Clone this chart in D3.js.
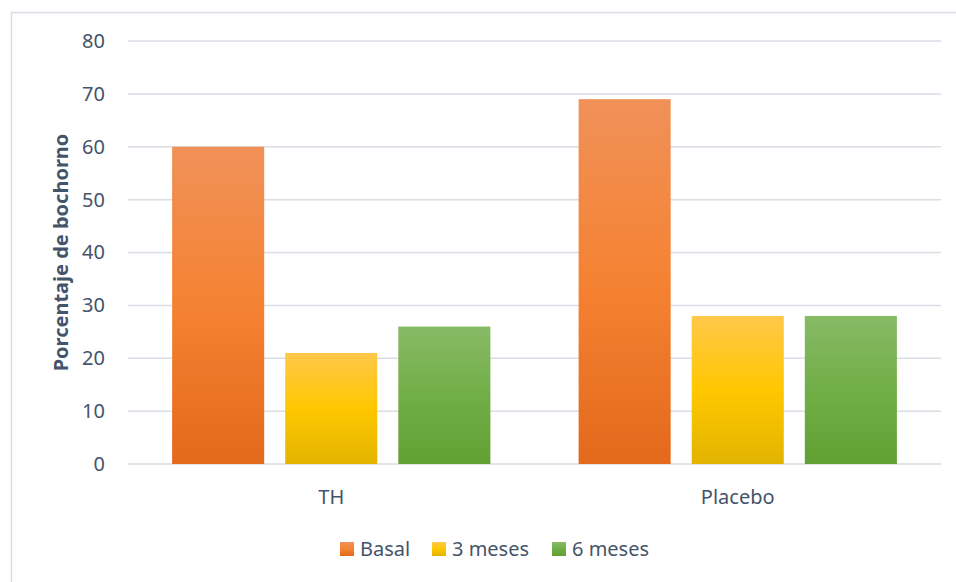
<!DOCTYPE html>
<html>
<head>
<meta charset="utf-8">
<script src="https://cdn.jsdelivr.net/npm/d3@7"></script>
<style>
  body { margin: 0; background: #fff; }
  text { font-family: "Noto Sans", "Open Sans", sans-serif; fill: #44546A; }
</style>
</head>
<body>
<div id="chart"></div>
<script>
const categories = ["TH", "Placebo"]
const series = ["Basal", "3 meses", "6 meses"]
const basal = [60, 69]
const tresMeses = [21, 28]
const seisMeses = [26, 28]
const yTicks = [0, 10, 20, 30, 40, 50, 60, 70, 80]

const values = [basal, tresMeses, seisMeses]
const colors = [
    ["#F09159", "#F58232", "#E3691B"],
    ["#FFC84A", "#FFC700", "#E2B400"],
    ["#87BA65", "#71AE47", "#62A033"]
]

const W = 956, H = 582
const plotLeft = 128, plotRight = 941, plotTop = 41, plotBottom = 464

const svg = d3.select("#chart")
    .append("svg")
    .attr("width", W)
    .attr("height", H)

// chart frame
svg.append("rect")
    .attr("x", 11.5).attr("y", 12.5)
    .attr("width", W + 20).attr("height", H + 20)
    .attr("fill", "none")
    .attr("stroke", "#D9DEE6")
    .attr("stroke-width", 1.5)

const defs = svg.append("defs")
colors.forEach((c, i) => {
    const g = defs.append("linearGradient")
        .attr("id", "grad" + i)
        .attr("x1", 0).attr("y1", 0).attr("x2", 0).attr("y2", 1)
    g.append("stop").attr("offset", "0%").attr("stop-color", c[0])
    g.append("stop").attr("offset", "50%").attr("stop-color", c[1])
    g.append("stop").attr("offset", "100%").attr("stop-color", c[2])
})

const y = d3.scaleLinear()
    .domain([0, 80])
    .range([plotBottom, plotTop])

const x0 = d3.scaleBand()
    .domain(categories)
    .range([plotLeft, plotRight])

const x1 = d3.scaleBand()
    .domain(series)
    .range([0, x0.bandwidth()])
    .paddingInner(0.186)
    .paddingOuter(0.39)

// gridlines
svg.append("g")
    .selectAll("line")
    .data(yTicks).enter()
    .append("line")
    .attr("x1", plotLeft).attr("x2", plotRight)
    .attr("y1", d => y(d)).attr("y2", d => y(d))
    .attr("stroke", "#D9DEE6")
    .attr("stroke-width", 1.5)

// y tick labels
const yAxis = svg.append("g")
    .attr("transform", "translate(" + plotLeft + ",0)")
    .call(d3.axisLeft(y).tickValues(yTicks).tickSize(0).tickPadding(23))
yAxis.select(".domain").remove()
yAxis.selectAll("text")
    .style("font-size", "20px")
    .attr("fill", "#44546A")

// bars
series.forEach((s, si) => {
    svg.append("g")
        .selectAll("rect")
        .data(categories).enter()
        .append("rect")
        .attr("x", (c) => x0(c) + x1(s))
        .attr("width", x1.bandwidth())
        .attr("y", (c, ci) => y(values[si][ci]))
        .attr("height", (c, ci) => y(0) - y(values[si][ci]))
        .attr("fill", "url(#grad" + si + ")")
})

// category labels
svg.append("g")
    .selectAll("text")
    .data(categories).enter()
    .append("text")
    .attr("x", c => x0(c) + x0.bandwidth() / 2)
    .attr("y", 504)
    .attr("text-anchor", "middle")
    .style("font-size", "20px")
    .text(c => c)

// y title
svg.append("text")
    .attr("transform", "translate(68," + ((plotTop + plotBottom) / 2) + ") rotate(-90)")
    .attr("text-anchor", "middle")
    .style("font-size", "20px")
    .style("font-weight", "bold")
    .text("Porcentaje de bochorno")

// legend
const legendX = [340, 432, 552]
const legend = svg.append("g")
series.forEach((s, i) => {
    legend.append("rect")
        .attr("x", legendX[i]).attr("y", 542)
        .attr("width", 14).attr("height", 14)
        .attr("fill", "url(#grad" + i + ")")
    legend.append("text")
        .attr("x", legendX[i] + 20).attr("y", 556)
        .style("font-size", "20px")
        .text(s)
})
</script>
</body>
</html>
